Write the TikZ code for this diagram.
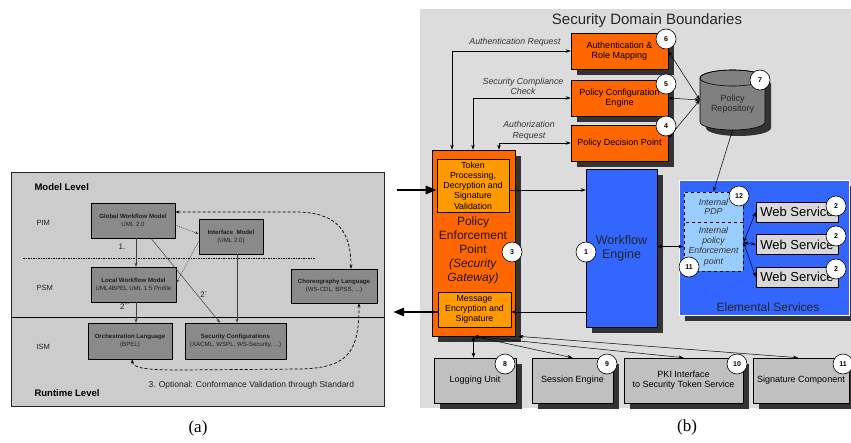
\documentclass[tikz,border=0pt]{standalone}
\usepackage{fontspec}
\setmainfont{Liberation Sans}
\newfontfamily\capfont{Liberation Serif}
\usetikzlibrary{arrows.meta,shadows,calc}
\definecolor{panelA}{HTML}{CCCCCC}
\definecolor{boxA}{HTML}{8A8A8A}
\definecolor{panelB}{HTML}{DCDCDC}
\definecolor{orangeA}{HTML}{FF6600}
\definecolor{orangeB}{HTML}{FF9900}
\definecolor{blueA}{HTML}{3366FF}
\definecolor{blueL}{HTML}{99CCFF}
\definecolor{greyBox}{HTML}{C0C0C0}
\definecolor{wsGrey}{HTML}{D9D9D9}
\definecolor{repoGrey}{HTML}{808080}
\definecolor{shadowC}{HTML}{333333}
\definecolor{textA}{HTML}{1E1E1E}
\begin{document}
\begin{tikzpicture}[x=1pt,y=-1pt,
  abox/.style={draw=black, fill=boxA, line width=0.6pt, align=center, inner sep=1pt, text=textA, font=\fontsize{6.1}{8}\selectfont},
  shad/.style={drop shadow={shadow xshift=6pt, shadow yshift=-6pt, fill=shadowC, opacity=1}},
  obox/.style={draw=black, fill=orangeA, line width=0.6pt, shad, align=center, inner sep=1pt, font=\fontsize{9}{10.3}\selectfont},
  ibox/.style={draw=black, fill=orangeB, line width=0.6pt, align=center, inner sep=0pt, font=\fontsize{8.8}{10.2}\selectfont},
  gbox/.style={draw=black, fill=greyBox, line width=0.6pt, shad, align=center, inner sep=1pt, font=\fontsize{9}{10.2}\selectfont},
  wsbox/.style={draw=black, fill=wsGrey, line width=0.6pt, inner sep=0pt, minimum width=82pt, minimum height=20pt, font=\fontsize{13}{14}\selectfont},
  num/.style={circle, draw=black, fill=white, line width=0.6pt, minimum size=20pt, inner sep=0pt, font=\bfseries\fontsize{7}{8}\selectfont},
  arr/.style={-{Stealth[length=5pt,width=3.5pt]}, line width=0.5pt},
  darr/.style={{Stealth[length=5pt,width=3.5pt]}-{Stealth[length=5pt,width=3.5pt]}, line width=0.5pt},
  aarr/.style={-{Stealth[length=4pt,width=3pt]}, line width=0.5pt, draw=black!75},
  adot/.style={-{Stealth[length=4pt,width=3pt]}, line width=0.5pt, draw=black!75, dash pattern=on 1pt off 1pt},
  adash/.style={{Stealth[length=4pt,width=3pt]}-{Stealth[length=4pt,width=3pt]}, line width=0.7pt, dash pattern=on 3pt off 2pt},
  bigarr/.style={-{Triangle[length=11pt,width=8pt]}, line width=2.5pt},
  lbl/.style={font=\itshape\fontsize{8.8}{10.5}\selectfont, text=black!80, align=center},
  side/.style={anchor=west, text=textA, font=\fontsize{7.5}{9}\selectfont},
  lev/.style={anchor=west, text=black, font=\bfseries\fontsize{9.5}{11}\selectfont}
]
\useasboundingbox (0,0) rectangle (851,442);

% ================= panel (a) =================
\fill[panelA] (11,172) rectangle (384,406);
\draw[black!85, line width=0.8pt] (11,172) rectangle (384,406);
\draw[black, line width=0.8pt] (11,317) -- (384,317);
\draw[black, line width=0.6pt, dash pattern=on 1.5pt off 1pt] (23,258) -- (315,258);

\node[lev] (ml) at (31,187) {Model Level};
\node[lev] (rl) at (31,393) {Runtime Level};
\node[side] (pim) at (33,223) {PIM};
\node[side] (psm) at (33,288) {PSM};
\node[side] (ism) at (33,347) {ISM};

\node[abox, minimum width=84pt, minimum height=35pt] (glob) at (133,220.5) {\textbf{Global Workflow Model}\\UML 2.0};
\node[abox, minimum width=64pt, minimum height=35pt] (iface) at (231,236.5) {\textbf{Interface\ \ Model}\\(UML 2.0)};
\node[abox, minimum width=85pt, minimum height=35pt] (local) at (133.5,284.5) {\textbf{Local Workflow Model}\\UML4BPEL UML 1.5 Profile};
\node[abox, minimum width=86pt, minimum height=34pt] (chor) at (334,286) {\textbf{Choreography Language}\\(WS-CDL, BPSS, ...)};
\node[abox, minimum width=84pt, minimum height=36pt] (orch) at (130,341) {\textbf{Orchestration Language}\\(BPEL)};
\node[abox, minimum width=101pt, minimum height=36pt] (sec) at (235.5,341) {\textbf{Security Configurations}\\(XACML, WSPL, WS-Security, ...)};

\draw[aarr] ([xshift=3pt]glob.south) -- ([xshift=3pt]glob.south |- local.north);
\draw[aarr] ([xshift=2.5pt]local.south) -- ([xshift=2.5pt]local.south |- orch.north);
\draw[aarr] ([xshift=18pt]glob.south) -- ([xshift=-15.5pt]sec.north);
\draw[aarr] ([xshift=6pt]iface.south) -- ([xshift=6pt]iface.south |- sec.north);
\draw[adot] ([yshift=-4.5pt]glob.east) -- ([yshift=2.5pt]iface.west);
\draw[adot] ([yshift=-5pt]iface.west) -- ([yshift=1.5pt]local.east);

\node[font=\fontsize{8}{9}\selectfont, text=textA] (l1) at (122,247) {1.};
\node[font=\fontsize{8}{9}\selectfont, text=textA] (l2b) at (125,307) {2´´};
\node[font=\fontsize{8}{9}\selectfont, text=textA] (l2a) at (204,295) {2´};

\draw[adash] ([yshift=8.5pt]glob.east) -- (295,212) .. controls (338,212) and (351,232) .. ([xshift=17pt]chor.north);
\draw[adash] ([xshift=2pt]orch.south) .. controls (133,368) and (145,370) .. (180,370) -- (300,369) .. controls (350,368) and (359,350) .. ([xshift=25pt]chor.south);

\node[anchor=west, text=textA, font=\fontsize{8.5}{10}\selectfont] (opt) at (145,385) {3. Optional: Conformance Validation through Standard};

\node[font=\capfont\fontsize{17}{20}\selectfont] (capa) at (198,428) {(a)};

% ================= panel (b) =================
\fill[panelB] (420,9) rectangle (851,408);
\node[font=\fontsize{15}{17}\selectfont, text=black!85] (title) at (647,21) {Security Domain Boundaries};

\node[obox, minimum width=97pt, minimum height=36pt] (auth) at (619.5,51) {Authentication \&\\Role Mapping};
\node[obox, minimum width=97pt, minimum height=36pt] (pce) at (619.5,98) {Policy Configuration\\Engine};
\node[obox, minimum width=97pt, minimum height=36pt] (pdp) at (619.5,143) {Policy Decision Point};

% repository cylinder
\fill[shadowC] (706,84) -- (706,128) arc[start angle=180, end angle=360, x radius=32.5pt, y radius=8pt] -- (771,84) arc[start angle=0, end angle=180, x radius=32.5pt, y radius=8pt] -- cycle;
\filldraw[fill=repoGrey, draw=black, line width=0.6pt] (700,78) -- (700,122) arc[start angle=180, end angle=360, x radius=32.5pt, y radius=8pt] -- (765,78) arc[start angle=0, end angle=180, x radius=32.5pt, y radius=8pt] -- cycle;
\draw[black, line width=0.6pt] (732.5,78) ellipse[x radius=32.5pt, y radius=8pt];
\node[minimum width=65pt, minimum height=60pt, inner sep=0pt] (repo) at (732.5,100) {};
\node[align=center, font=\fontsize{9}{10.5}\selectfont, text=black!85] (repot) at (732.5,104) {Policy\\Repository};

% PEP
\node[draw=black, fill=orangeA, line width=0.6pt, shad, minimum width=83pt, minimum height=186pt] (pep) at (473.5,243) {};
\node[ibox, minimum width=72pt, minimum height=53pt] (tok) at (473,185.5) {Token\\Processing,\\Decryption and\\Signature\\Validation};
\node[ibox, minimum width=73pt, minimum height=35pt] (msg) at (474.5,309.5) {Message\\Encryption and\\Signature};
\node[align=center, font=\fontsize{12}{14}\selectfont, text=black!90] (pept) at (473,250) {Policy\\Enforcement\\Point\\\textit{(Security}\\\textit{Gateway)}};

% workflow engine
\node[draw=black, fill=blueA, line width=0.6pt, shad, minimum width=71pt, minimum height=158pt, align=center, font=\fontsize{12.5}{14}\selectfont, text=black!85] (wf) at (621.5,248) {Workflow\\Engine};

% elemental services
\node[draw=white, fill=blueA, line width=1pt, shad, minimum width=170pt, minimum height=135pt] (es) at (764,247.5) {};
\node[font=\fontsize{12}{14}\selectfont, text=black!85] (est) at (768,307) {Elemental Services};
\node[draw=black, fill=blueL, dashed, line width=1pt, minimum width=59pt, minimum height=30pt, align=center, inner sep=0pt, font=\itshape\fontsize{8.8}{9.5}\selectfont, text=black!80] (ipdp) at (713.5,207) {Internal\\PDP};
\node[draw=black, fill=blueL, dashed, line width=1pt, minimum width=59pt, minimum height=49pt, align=center, inner sep=0pt, font=\itshape\fontsize{8.8}{10.3}\selectfont, text=black!80] (ipep) at (713.5,246.5) {Internal\\policy\\Enforcement\\point};
\node[wsbox] (ws1) at (797,212) {Web Service};
\node[wsbox] (ws2) at (797,244.5) {Web Service};
\node[wsbox] (ws3) at (797,277) {Web Service};

% bottom boxes
\node[gbox, minimum width=82pt, minimum height=45pt] (log) at (475,380.5) {Logging Unit};
\node[gbox, minimum width=81pt, minimum height=45pt] (sess) at (572.5,380.5) {Session Engine};
\node[gbox, minimum width=119pt, minimum height=45pt] (pki) at (683.5,380.5) {PKI Interface\\to Security Token Service};
\node[gbox, minimum width=96pt, minimum height=45pt] (sig) at (801,380.5) {Signature Component};

% connectors (b)
\draw[darr] (auth.west) -| ([xshift=-21.5pt]pep.north);
\draw[darr] (pce.west) -| ([xshift=-0.5pt]pep.north);
\draw[darr] (pdp.west) -| ([xshift=25.5pt]pep.north);
\node[lbl, anchor=east] (authreq) at (564,42) {Authentication Request};
\node[lbl] (scc) at (523,86.5) {Security Compliance\\Check};
\node[lbl] (azr) at (529,130.5) {Authorization\\Request};

\draw[darr] (auth.east) -- (repo.west);
\draw[darr] (pce.east) -- (repo.west);
\draw[darr] ([yshift=5pt]pdp.east) -- (repo.west);
\draw[arr] (repo.south) -- (ipdp.north);

\coordinate (t1) at ($(tok.east)+(0,4.5)$);
\draw[arr] (t1) -- (t1 -| wf.west);
\coordinate (m1) at ($(msg.east)+(0,2.5)$);
\draw[arr] (m1 -| wf.west) -- (m1);
\draw[darr] (ipep.west -| wf.east) -- (ipep.west);
\coordinate (pe) at ($(ipep.east)+(0,-4)$);
\draw[darr] (pe) -- (ws1.west);
\draw[darr] (pe) -- (ws2.west);
\draw[darr] (pe) -- (ws3.west);

\draw[darr] (pep.south) -- (pep.south |- log.north);
\draw[darr] (pep.south) -- (sess.north);
\draw[darr] (pep.south) -- (pki.north);
\draw[darr] ([xshift=3pt]pep.south east) -- ([xshift=-3pt]sig.north);

% big arrows between panels
\coordinate (inL) at (397,190);
\draw[bigarr] (inL) -- (inL -| tok.west);
\coordinate (outL) at (393,312);
\draw[bigarr] (msg.west |- outL) -- (outL);

% number circles
\node[num] (n6) at (666,39) {6};
\node[num] (n5) at (666,84) {5};
\node[num] (n4) at (666,126) {4};
\node[num] (n7) at (760,80) {7};
\node[num] (n3) at (512,252) {3};
\node[num] (n1) at (586,252) {1};
\node[num] (n12) at (739,196) {12};
\node[num] (n11a) at (689,267) {11};
\node[num] (n2a) at (836,206) {2};
\node[num] (n2b) at (836,236) {2};
\node[num] (n2c) at (836,269) {2};
\node[num] (n8) at (505,364) {8};
\node[num] (n9) at (607,364) {9};
\node[num] (n10) at (737,364) {10};
\node[num] (n11b) at (843,364) {11};

\node[font=\capfont\fontsize{17}{20}\selectfont] (capb) at (687,427) {(b)};
\end{tikzpicture}
\end{document}
